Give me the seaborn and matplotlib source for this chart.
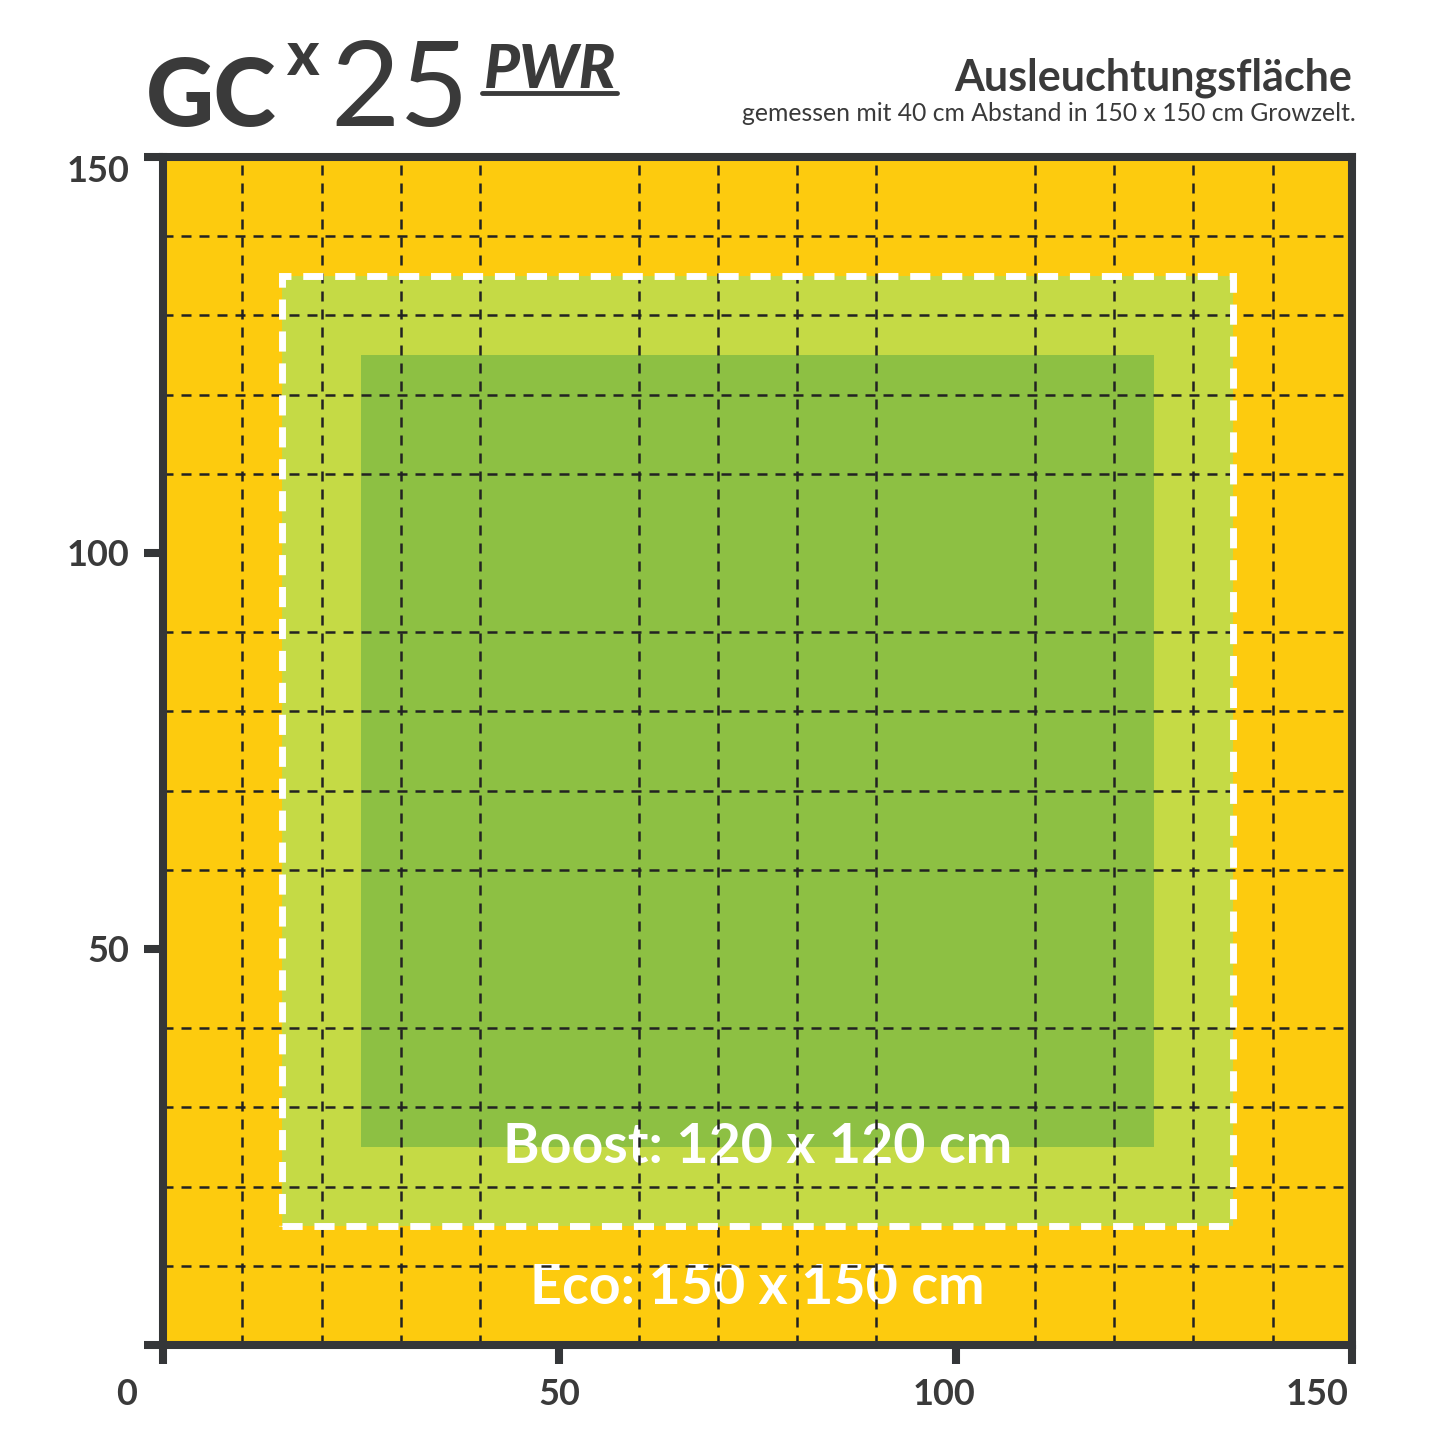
import matplotlib
matplotlib.use("Agg")

import matplotlib.pyplot as plt
import matplotlib.transforms as mtransforms
from matplotlib.patches import Rectangle
import seaborn as sns

# illumination zones in cm, outer to inner
zone_names = ["Eco", "Boost", "Kern"]
zone_lo = [0, 15, 25]
zone_hi = [150, 135, 125]
zone_colors = ["#fdcb0e", "#c5da45", "#8dc043"]

area_labels = ["Eco: 150 x 150 cm", "Boost: 120 x 120 cm"]
area_label_y = [7.2, 25]

tick_values = [0, 50, 100, 150]
x_tick_labels = ["0", "50", "100", "150"]
y_tick_labels = ["", "50", "100", "150"]
grid_values = list(range(10, 150, 10))

title = "Ausleuchtungsfläche"
subtitle = "gemessen mit 40 cm Abstand in 150 x 150 cm Growzelt."

DARK = "#343638"
TEXT = "#3a3a3a"

sns.set_theme(style="white")
plt.rcParams["font.family"] = ["Lato", "DejaVu Sans"]

fig = plt.figure(figsize=(14.45, 14.45), dpi=100)
ax = fig.add_axes([163 / 1445, 100 / 1445, 1189 / 1445, 1188 / 1445])

for name, lo, hi, col in zip(zone_names, zone_lo, zone_hi, zone_colors):
    ax.fill_between([lo, hi], lo, hi, color=col, lw=0, zorder=1)

# white dashed frame around the boost zone
b = zone_names.index("Boost")
ax.add_patch(Rectangle((zone_lo[b], zone_lo[b]), zone_hi[b] - zone_lo[b], zone_hi[b] - zone_lo[b],
                       fill=False, ec="white", lw=5, ls=(0, (2.9, 1.7)), zorder=2.7))

for txt, y in zip(area_labels, area_label_y):
    ax.text(75, y, txt, ha="center", va="center", color="white", fontsize=40,
            fontweight="bold", zorder=2)

ax.set_xlim(0, 150)
ax.set_ylim(0, 150)
ax.set_xticks(tick_values)
ax.set_yticks(tick_values)
ax.set_xticklabels(x_tick_labels)
ax.set_yticklabels(y_tick_labels)
ax.set_xticks(grid_values, minor=True)
ax.set_yticks(grid_values, minor=True)
ax.set_axisbelow(False)
ax.grid(which="minor", color="#222222", lw=1.8, ls=(0, (4, 3.2)))
ax.grid(which="major", visible=False)

for s in ax.spines.values():
    s.set_visible(True)
    s.set_color(DARK)
    s.set_linewidth(5.8)
    s.set_zorder(3)

ax.tick_params(which="major", direction="out", length=14, width=5.8, color=DARK,
               labelsize=26, labelcolor=TEXT, pad=10, bottom=True, left=True)
ax.tick_params(which="minor", length=0)
for lab in ax.get_xticklabels() + ax.get_yticklabels():
    lab.set_fontweight("bold")

# nudge a few tick labels like the original artwork
x_shift = {"0": -36, "100": -12, "150": -35}
for lab in ax.get_xticklabels():
    dx = x_shift.get(lab.get_text(), 0)
    lab.set_transform(lab.get_transform() + mtransforms.ScaledTranslation(dx / 100, 0, fig.dpi_scale_trans))
for lab in ax.get_yticklabels():
    if lab.get_text() == "150":
        lab.set_transform(lab.get_transform() + mtransforms.ScaledTranslation(0, -12 / 100, fig.dpi_scale_trans))

# heading
fig.text(1352 / 1445, 1 - 90 / 1445, title, ha="right", va="baseline", fontsize=31,
         fontweight="bold", color=TEXT)
fig.text(1356 / 1445, 1 - 121 / 1445, subtitle, ha="right", va="baseline", fontsize=17.8,
         color=TEXT)

# product logo
fig.text(146 / 1445, 1 - 126 / 1445, "GC", ha="left", va="baseline", fontsize=68,
         fontweight="black", color=TEXT)
fig.text(286 / 1445, 1 - 75 / 1445, "x", ha="left", va="baseline", fontsize=44,
         fontweight="black", color=TEXT)
fig.text(330 / 1445, 1 - 126 / 1445, "25", ha="left", va="baseline", fontsize=86,
         fontweight="normal", color=TEXT)
fig.text(484 / 1445, 1 - 88 / 1445, "PWR", ha="left", va="baseline", fontsize=44,
         fontweight="black", fontstyle="italic", color=TEXT)
fig.add_artist(plt.Line2D([482 / 1445, 617 / 1445], [1 - 93 / 1445, 1 - 93 / 1445],
                          color=TEXT, lw=3.5, transform=fig.transFigure))

fig.savefig("out.png", dpi=100, facecolor="white")
